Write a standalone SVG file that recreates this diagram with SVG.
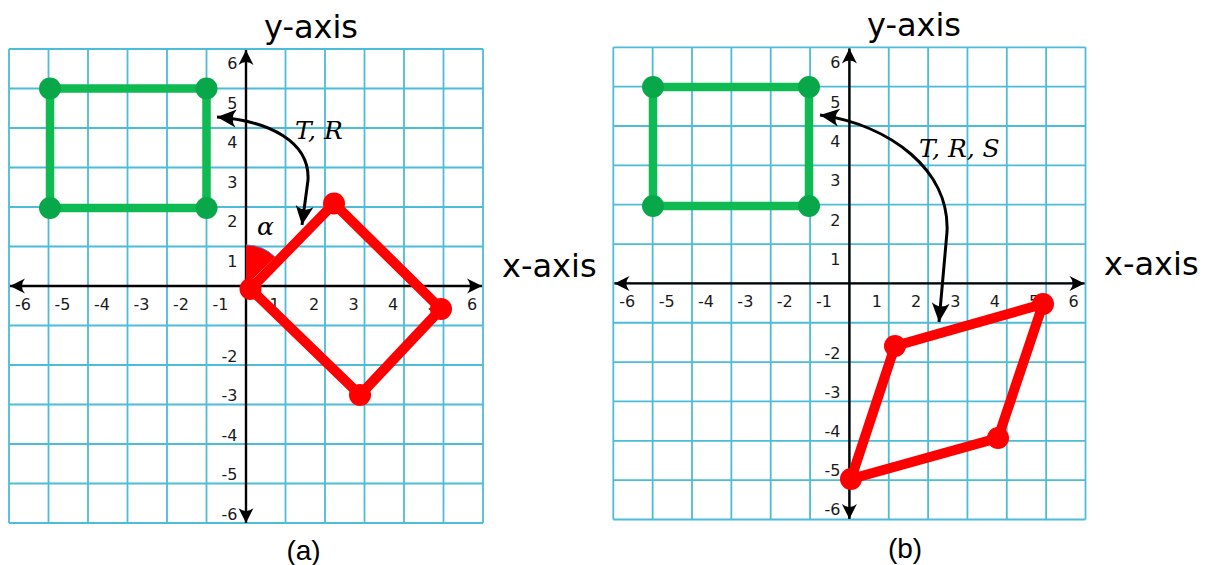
<svg xmlns="http://www.w3.org/2000/svg" width="1207" height="565" viewBox="0 0 1207 565">
<defs>
<style>
.grid{fill:none;stroke:#4cbcd8;stroke-width:1.8}
.axis{fill:none;stroke:#000;stroke-width:2.4;marker-start:url(#ah);marker-end:url(#ah)}
.curve{fill:none;stroke:#000;stroke-width:3;marker-start:url(#ch);marker-end:url(#ch)}
.tick{font-family:"DejaVu Sans",sans-serif;font-size:16px;fill:#1a1a1a}
.ty{text-anchor:end}
.tx{text-anchor:middle}
.title{font-family:"DejaVu Sans",sans-serif;font-size:32px;fill:#000}
.cap{font-family:"Liberation Sans",Arial,sans-serif;font-size:28px;fill:#000;text-anchor:middle}
.math{font-family:"DejaVu Serif",serif;font-style:italic;font-size:25px;fill:#000}
.gline{fill:none;stroke:#0fba52;stroke-width:8.5;stroke-linejoin:round}
.gdot{fill:#08a84a}
.rline{fill:none;stroke:#ff0000;stroke-width:10;stroke-linejoin:round}
.rdot{fill:#ff0000}
</style>
<marker id="ah" markerUnits="userSpaceOnUse" markerWidth="20" markerHeight="20" viewBox="-14 -7 16 14" refX="0" refY="0" orient="auto-start-reverse">
<path d="M0,0 L-12,-6 Q-7,0 -12,6 Z" fill="#000"/>
</marker>
<marker id="ch" markerUnits="userSpaceOnUse" markerWidth="24" markerHeight="24" viewBox="-18 -9 20 18" refX="0" refY="0" orient="auto-start-reverse">
<path d="M0,0 L-16,-7.5 Q-10,0 -16,7.5 Z" fill="#000"/>
</marker>
</defs>

<g id="panel-a">
<g id="grid-a">
<path class="grid" d="M9,49V523M48.5,49V523M88,49V523M127.5,49V523M167,49V523M206.5,49V523M246,49V523M285.5,49V523M325,49V523M364.5,49V523M404,49V523M443.5,49V523M483,49V523M9,49H483M9,88.5H483M9,128H483M9,167.5H483M9,207H483M9,246.5H483M9,286H483M9,325.5H483M9,365H483M9,404.5H483M9,444H483M9,483.5H483M9,523H483"/>
</g>
<g id="ticks-a" class="tick">
<text class="ty" x="237.5" y="69">6</text>
<text class="ty" x="237.5" y="108.5">5</text>
<text class="ty" x="237.5" y="148">4</text>
<text class="ty" x="237.5" y="187.5">3</text>
<text class="ty" x="237.5" y="227">2</text>
<text class="ty" x="237.5" y="266.5">1</text>
<text class="ty" x="237.5" y="361.5">-2</text>
<text class="ty" x="237.5" y="401">-3</text>
<text class="ty" x="237.5" y="440.5">-4</text>
<text class="ty" x="237.5" y="480">-5</text>
<text class="ty" x="237.5" y="519.5">-6</text>
<text class="tx" x="23" y="310">-6</text>
<text class="tx" x="62.5" y="310">-5</text>
<text class="tx" x="102" y="310">-4</text>
<text class="tx" x="141.5" y="310">-3</text>
<text class="tx" x="181" y="310">-2</text>
<text class="tx" x="220.5" y="310">-1</text>
<text class="tx" x="274.5" y="310">1</text>
<text class="tx" x="314" y="310">2</text>
<text class="tx" x="353.5" y="310">3</text>
<text class="tx" x="393" y="310">4</text>
<text class="tx" x="432.5" y="310">5</text>
<text class="tx" x="472" y="310">6</text>
</g>
<g id="axes-a">
<path class="axis" d="M246,50V523"/>
<path class="axis" d="M10,286H482"/>
</g>
<text id="ylabel-a" class="title" x="264" y="38">y-axis</text>
<text id="xlabel-a" class="title" x="502" y="277">x-axis</text>
<g id="green-a">
<path class="gline" d="M50,88.5H206.5V208H50Z"/>
<circle class="gdot" cx="50" cy="88.5" r="11"/>
<circle class="gdot" cx="206.5" cy="88.5" r="11"/>
<circle class="gdot" cx="50" cy="208" r="11"/>
<circle class="gdot" cx="206.5" cy="208" r="11"/>
</g>
<g id="angle-a">
<path d="M246,286L246,245A41,41 0 0 1 275,257Z" fill="#ff0000"/>
<path d="M246,245A41,41 0 0 1 275,257" fill="none" stroke="#4a7fd0" stroke-width="1"/>
<text class="math" x="257" y="235" font-size="26">α</text>
</g>
<g id="red-a">
<path class="rline" d="M250.5,289L334,203.5L441,309L360,395Z"/>
<circle class="rdot" cx="250.5" cy="289" r="11"/>
<circle class="rdot" cx="334" cy="203.5" r="11"/>
<circle class="rdot" cx="441" cy="309" r="11"/>
<circle class="rdot" cx="360" cy="395" r="11"/>
</g>
<g id="connector-a">
<path class="curve" d="M217,117C270,121 310,142 308,180L302,225"/>
<text class="math" x="295" y="139">T, R</text>
</g>
<text id="cap-a" class="cap" x="303.5" y="560">(a)</text>
</g>

<g id="panel-b">
<g id="grid-b">
<path class="grid" d="M613.3,47.3V519.5M652.65,47.3V519.5M692,47.3V519.5M731.35,47.3V519.5M770.7,47.3V519.5M810.05,47.3V519.5M849.4,47.3V519.5M888.75,47.3V519.5M928.1,47.3V519.5M967.45,47.3V519.5M1006.8,47.3V519.5M1046.15,47.3V519.5M1085.5,47.3V519.5M613.3,47.3H1085.5M613.3,86.65H1085.5M613.3,126H1085.5M613.3,165.35H1085.5M613.3,204.7H1085.5M613.3,244.05H1085.5M613.3,283.4H1085.5M613.3,322.75H1085.5M613.3,362.1H1085.5M613.3,401.45H1085.5M613.3,440.8H1085.5M613.3,480.15H1085.5M613.3,519.5H1085.5"/>
</g>
<g id="ticks-b" class="tick">
<text class="ty" x="840.5" y="68.3">6</text>
<text class="ty" x="840.5" y="107.5">5</text>
<text class="ty" x="840.5" y="147">4</text>
<text class="ty" x="840.5" y="186.4">3</text>
<text class="ty" x="840.5" y="225.7">2</text>
<text class="ty" x="840.5" y="265">1</text>
<text class="ty" x="840.5" y="359">-2</text>
<text class="ty" x="840.5" y="398">-3</text>
<text class="ty" x="840.5" y="437.3">-4</text>
<text class="ty" x="840.5" y="476.3">-5</text>
<text class="ty" x="840.5" y="515">-6</text>
<text class="tx" x="627.3" y="307">-6</text>
<text class="tx" x="666.65" y="307">-5</text>
<text class="tx" x="706" y="307">-4</text>
<text class="tx" x="745.35" y="307">-3</text>
<text class="tx" x="784.7" y="307">-2</text>
<text class="tx" x="824" y="307">-1</text>
<text class="tx" x="876.75" y="307">1</text>
<text class="tx" x="916.1" y="307">2</text>
<text class="tx" x="955.45" y="307">3</text>
<text class="tx" x="994.8" y="307">4</text>
<text class="tx" x="1034.15" y="307">5</text>
<text class="tx" x="1073.5" y="307">6</text>
</g>
<g id="axes-b">
<path class="axis" d="M849.4,48.5V519"/>
<path class="axis" d="M614.5,283.4H1084.5"/>
</g>
<text id="ylabel-b" class="title" x="867" y="36">y-axis</text>
<text id="xlabel-b" class="title" x="1104" y="275">x-axis</text>
<g id="green-b">
<path class="gline" d="M653,87H809V206H653Z"/>
<circle class="gdot" cx="653" cy="87" r="11"/>
<circle class="gdot" cx="809" cy="87" r="11"/>
<circle class="gdot" cx="653" cy="206" r="11"/>
<circle class="gdot" cx="809" cy="206" r="11"/>
</g>
<g id="red-b">
<path class="rline" d="M851,479L895,346L1043,304L998,438Z"/>
<circle class="rdot" cx="851" cy="479" r="11"/>
<circle class="rdot" cx="895" cy="346" r="11"/>
<circle class="rdot" cx="1043" cy="304" r="11"/>
<circle class="rdot" cx="998" cy="438" r="11"/>
</g>
<g id="connector-b">
<path class="curve" d="M820,115C890,125 950,170 947,232L939,322"/>
<text class="math" x="919" y="157">T, R, S</text>
</g>
<text id="cap-b" class="cap" x="905" y="558">(b)</text>
</g>
</svg>
